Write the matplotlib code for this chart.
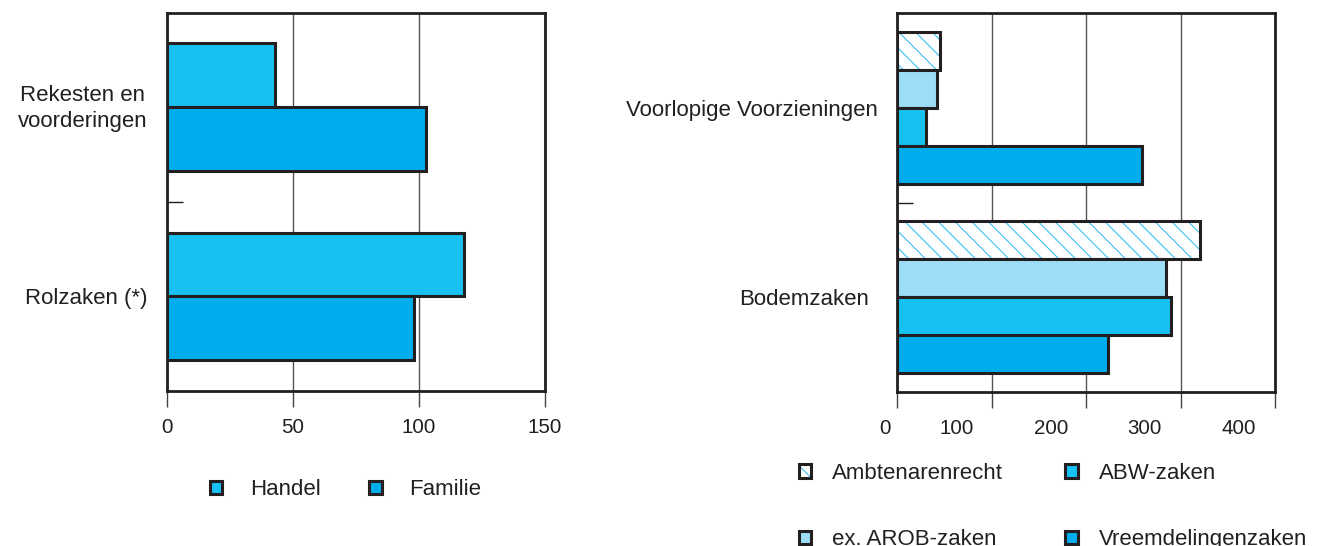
import matplotlib
matplotlib.use("Agg")
import matplotlib.pyplot as plt
import matplotlib.transforms as mtransforms
from matplotlib.legend_handler import HandlerTuple
import numpy as np

# left chart: rechtbank zaken
left_categories = ["Rolzaken (*)", "Rekesten en\nvoorderingen"]
handel = [118, 43]
familie = [98, 103]
left_ticks = [0, 50, 100, 150]

# right chart: bestuursrecht
right_categories = ["Bodemzaken", "Voorlopige Voorzieningen"]
ambtenarenrecht = [321, 45]
ex_arob = [285, 42]
abw = [290, 30]
vreemdelingen = [223, 259]
right_ticks = [0, 100, 200, 300, 400]

ink = "#231f20"
c_light = "#17c1f1"
c_dark = "#00adec"
c_pale = "#9eddf7"
c_hatch = "#3cc0ee"

plt.rcParams["font.family"] = ["Liberation Sans", "DejaVu Sans"]
plt.rcParams["font.size"] = 16
plt.rcParams["text.color"] = ink
plt.rcParams["hatch.linewidth"] = 0.8

TICK_FS = 14.8
TEXT_FS = 16

fig = plt.figure(figsize=(13.27, 5.46), dpi=100)
ax1 = fig.add_axes([0.1256, 0.2839, 0.2851, 0.6928])
ax2 = fig.add_axes([0.6762, 0.2826, 0.2846, 0.6930])

bar_kw = dict(edgecolor=ink, linewidth=2.2, zorder=3)


def shift(artist, dx, dy):
    # nudge a text by a few pixels
    artist.set_transform(artist.get_transform() +
                         mtransforms.ScaledTranslation(dx / 100, dy / 100, fig.dpi_scale_trans))


def style_axis(ax, ticks, xmax):
    ax.set_xlim(0, xmax)
    ax.set_ylim(-0.5, 1.5)
    ax.set_xticks(ticks)
    ax.grid(axis="x", color="#555555", linewidth=1.0, zorder=1)
    for s in ax.spines.values():
        s.set_linewidth(2.0)
        s.set_color(ink)
        s.set_zorder(4)
    ax.tick_params(axis="x", length=11.5, width=1.0, color="#444444",
                   labelsize=TICK_FS, labelcolor=ink, pad=8)
    ax.tick_params(axis="y", which="major", length=0, labelsize=TEXT_FS, labelcolor=ink)
    ax.set_yticks([0.5], minor=True)
    ax.tick_params(axis="y", which="minor", direction="in", length=11.5,
                   width=1.0, color=ink)


# ---- left
y = np.arange(len(left_categories))
h1 = 0.3375
b_handel = ax1.barh(y + h1 / 2, handel, height=h1, color=c_light, label="Handel", **bar_kw)
b_familie = ax1.barh(y - h1 / 2, familie, height=h1, color=c_dark, label="Familie", **bar_kw)
style_axis(ax1, left_ticks, 150)
ax1.set_yticks(y, left_categories)
ax1.tick_params(axis="y", which="major", pad=14)
for lab in ax1.get_yticklabels():
    lab.set_multialignment("center")
    lab.set_linespacing(1.3)
shift(ax1.get_yticklabels()[1], 0, 4)

ax1.legend(handles=[b_handel, b_familie], loc="center left",
           bbox_to_anchor=(0.158, 0.1026), bbox_transform=fig.transFigure,
           ncol=2, frameon=False, borderpad=0, borderaxespad=0,
           handlelength=0.55, handleheight=0.55, handletextpad=1.25,
           columnspacing=2.2, fontsize=TEXT_FS)

# ---- right
y2 = np.arange(len(right_categories))
h2 = 0.2
b_amb = ax2.barh(y2 + 1.5 * h2, ambtenarenrecht, height=h2, color="white",
                 hatch="\\\\", edgecolor=c_hatch, linewidth=0, zorder=3)
b_amb_edge = ax2.barh(y2 + 1.5 * h2, ambtenarenrecht, height=h2, fill=False,
                      edgecolor=ink, linewidth=2.2, zorder=3)
b_arob = ax2.barh(y2 + 0.5 * h2, ex_arob, height=h2, color=c_pale, **bar_kw)
b_abw = ax2.barh(y2 - 0.5 * h2, abw, height=h2, color=c_light, **bar_kw)
b_vreemd = ax2.barh(y2 - 1.5 * h2, vreemdelingen, height=h2, color=c_dark, **bar_kw)
style_axis(ax2, right_ticks, 400)
ax2.set_yticks(y2, right_categories)
ax2.tick_params(axis="y", which="major", pad=14)

# x tick labels sit left of their ticks in the original
x_shift = [-12, -35, -35, -36, -36]
for lab, dx in zip(ax2.get_xticklabels(), x_shift):
    shift(lab, dx, 0)
shift(ax2.get_yticklabels()[0], -9, 0)

ax2.legend(handles=[(b_amb[0], b_amb_edge[0]), b_arob, b_abw, b_vreemd],
           labels=["Ambtenarenrecht", "ex. AROB-zaken", "ABW-zaken", "Vreemdelingenzaken"],
           handler_map={tuple: HandlerTuple(ndivide=1)},
           loc="center left", bbox_to_anchor=(0.602, 0.0723),
           bbox_transform=fig.transFigure, ncol=2, frameon=False,
           borderpad=0, borderaxespad=0, handlelength=0.55, handleheight=0.55,
           handletextpad=0.95, columnspacing=2.8, labelspacing=2.05, fontsize=TEXT_FS)

fig.savefig("out.png", dpi=100)
